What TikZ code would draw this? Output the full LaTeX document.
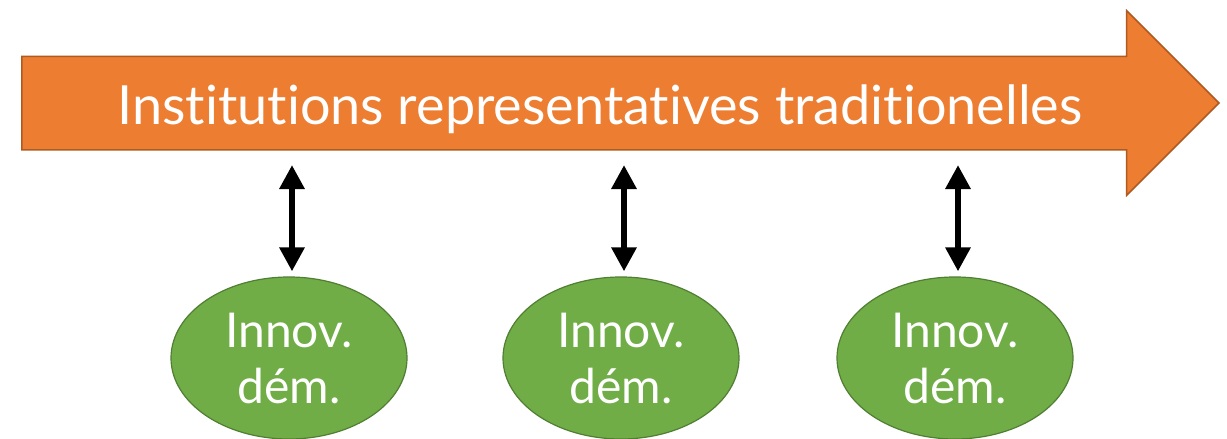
\documentclass[tikz,border=0pt]{standalone}
\usepackage{fontspec}
\setmainfont{Lato}[Ligatures=NoCommon]
\usetikzlibrary{shapes.arrows,shapes.geometric,arrows.meta}
\definecolor{instfill}{HTML}{ED7D31}
\definecolor{instline}{HTML}{AE5A21}
\definecolor{innofill}{HTML}{70AD47}
\definecolor{innoline}{HTML}{507E32}
\tikzset{
	timeline/.style={single arrow, fill=instfill, draw=instline, line width=1.5pt,
		inner sep=0pt, text height=92pt, text depth=0pt, text width=0pt,
		minimum height=1197pt, single arrow head extend=45.5pt, single arrow head indent=0pt},
	innov/.style={ellipse, fill=innofill, draw=innoline, line width=1.2pt, text=white,
		minimum width=236pt, minimum height=162pt, align=center, inner sep=0pt,
		font=\fontsize{48}{56}\selectfont},
	link/.style={{Triangle[width=24pt,length=24pt]}-{Triangle[width=24pt,length=24pt]},
		line width=6pt, black, shorten <=16pt, shorten >=5pt}
}

\begin{document}
\begin{tikzpicture}[x=1pt, y=-1pt]
	\useasboundingbox (0,0) rectangle (1227,439);
	
	%--- the big arrow of the representative institutions ---
	\node[timeline, anchor=tip] (inst) at (1220,103) {};
	\node[anchor=base, text=white, font=\fontsize{54}{60}\selectfont] (insttext) at (600,124) {Institutions representatives traditionelles};
	\coordinate (shaft) at (0,149);
	
	%--- innovations below, each linked to the arrow ---
	\foreach \x [count=\k] in {289,621,955}{
		\node[innov] (e\k) at (\x,358) {Innov.\\dém.};
		\draw[link] ([xshift=3pt]e\k.north |- shaft) -- ([xshift=3pt]e\k.north);
	}
\end{tikzpicture}
\end{document}
